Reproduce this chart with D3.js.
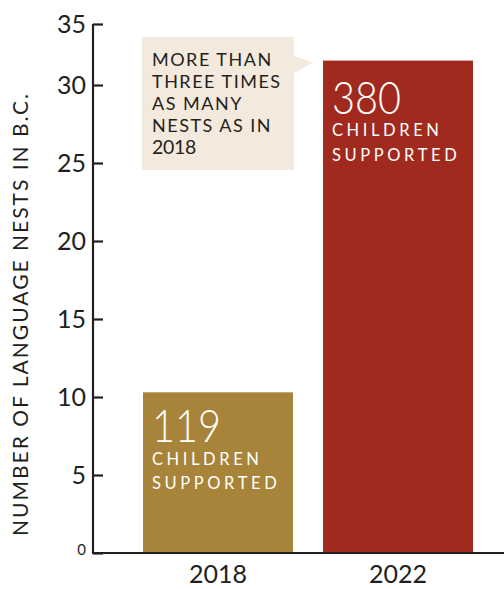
<!DOCTYPE html>
<html><head><meta charset="utf-8">
<script src="https://cdn.jsdelivr.net/npm/d3@7"></script>
<style>html,body{margin:0;padding:0;background:#fff;}svg{display:block;}</style>
</head><body>
<svg id="c" width="504" height="589"></svg>
<script>
const categories = ["2018", "2022"];
const nests = [10.3, 32];
const children = ["119", "380"];
const subLines = ["CHILDREN", "SUPPORTED"];
const yTicks = [0, 5, 10, 15, 20, 25, 30, 35];
const calloutLines = ["MORE THAN", "THREE TIMES", "AS MANY", "NESTS AS IN", "2018"];
const yTitle = "NUMBER OF LANGUAGE NESTS IN B.C.";
const barColors = ["#a8843a", "#a12a1e"];

const svg = d3.select("#c");
const font = "Lato, 'Open Sans', sans-serif";
const ink = "#231f20";
const y = d3.scaleLinear().domain([0, 30, 35]).range([553, 85, 24]);
const x = d3.scaleBand().domain(categories).range([143, 473]).paddingInner(1 / 6).paddingOuter(0);

// bars
svg.selectAll("rect.bar").data(categories).enter().append("rect")
  .attr("x", d => x(d)).attr("width", x.bandwidth())
  .attr("y", (d, i) => y(nests[i])).attr("height", (d, i) => y(0) - y(nests[i]))
  .attr("fill", (d, i) => barColors[i]);

// y axis
const ax = svg.append("g").attr("transform", "translate(93,0)")
  .call(d3.axisRight(y).tickValues(yTicks).tickSize(10).tickFormat(""));
ax.select(".domain").attr("stroke", ink).attr("stroke-width", 2.2).attr("d", "M0," + y(35) + "V" + (y(0)+1));
ax.selectAll(".tick line").attr("stroke", ink).attr("stroke-width", 2.2);
svg.selectAll("text.yt").data(yTicks).enter().append("text")
  .attr("x", 86).attr("y", d => y(d)).attr("dy", d => d === 0 ? "0.15em" : "0.36em")
  .attr("text-anchor", "end").attr("font-family", font)
  .attr("font-size", d => d === 0 ? 15 : 25).attr("fill", ink).text(d => d);

// x baseline
svg.append("line").attr("x1", 92).attr("x2", 504).attr("y1", y(0)).attr("y2", y(0))
  .attr("stroke", ink).attr("stroke-width", 2.2);

// x labels
svg.selectAll("text.xl").data(categories).enter().append("text")
  .attr("x", d => x(d) + x.bandwidth() / 2).attr("y", 583)
  .attr("text-anchor", "middle").attr("font-family", font).attr("font-size", 25)
  .attr("fill", ink).text(d => d);

// y title
svg.append("text").attr("transform", "translate(28," + 314 + ") rotate(-90)")
  .attr("text-anchor", "middle").attr("font-family", font).attr("font-size", 21)
  .attr("letter-spacing", 2).attr("fill", ink).text(yTitle);

// bar labels
const numOff = [50, 53], subOff = [[73, 97], [75, 100]];
categories.forEach((c, i) => {
  const bx = x(c) + 9, top = y(nests[i]);
  svg.append("text").attr("x", bx).attr("y", top + numOff[i])
    .attr("font-family", font).attr("font-weight", 300).attr("font-size", 46)
    .attr("textLength", 69).attr("lengthAdjust", "spacingAndGlyphs")
    .attr("fill", "#fff").text(children[i]);
  subLines.forEach((s, j) => {
    svg.append("text").attr("x", bx).attr("y", top + subOff[i][j])
      .attr("font-family", font).attr("font-size", 16.5).attr("letter-spacing", 3.6)
      .attr("fill", "#fff").text(s);
  });
});

// callout
const cx0 = x("2018") - 1, cx1 = x("2018") + x.bandwidth() + 1;
svg.append("rect").attr("x", cx0).attr("y", 37).attr("width", cx1 - cx0).attr("height", 133).attr("fill", "#f3e9dc");
svg.append("path").attr("d", `M${cx1},56L313,62.5L${cx1},73Z`).attr("fill", "#f3e9dc");
svg.selectAll("text.co").data(calloutLines).enter().append("text")
  .attr("x", 152).attr("y", (d, i) => 66 + i * 22)
  .attr("font-family", font).attr("font-size", (d, i) => i === 4 ? 19.5 : 18)
  .attr("letter-spacing", (d, i) => i === 4 ? -0.3 : 1.5)
  .attr("fill", ink).text(d => d);
</script>
</body></html>
